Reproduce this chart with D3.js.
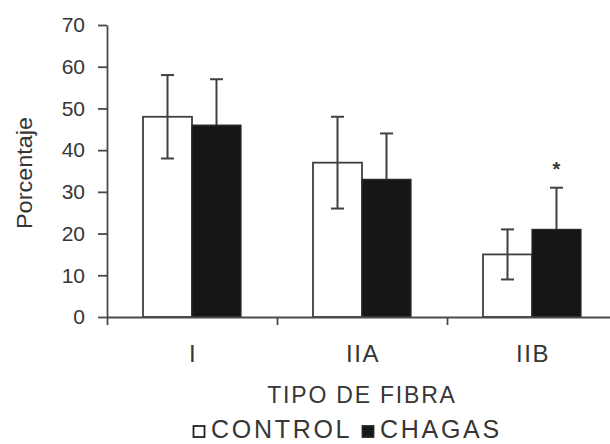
<!DOCTYPE html>
<html lang="en">
  <head>
    <meta charset="UTF-8" />
    <script src="https://d3js.org/d3.v7.min.js"></script>
    <title>Tipo de fibra</title>
    <style type="text/css">
      body {
        margin: 0;
        background: #fff;
      }
      text {
        font-family: 'Liberation Sans', Arial, sans-serif;
        fill: #363636;
      }
      .tick text {
        font-size: 21px;
      }
      .tick line,
      .domain {
        stroke: #4a4a4a;
        stroke-width: 1.8;
      }
    </style>
  </head>
  <body>
    <svg width="610" height="444"></svg>
  </body>
  <script type="text/javascript">
    const categories = ['I', 'IIA', 'IIB'];
    const series = ['CONTROL', 'CHAGAS'];
    const controlMean = [48, 37, 15];
    const controlErr = [10, 11, 6];
    const chagasMean = [46, 33, 21];
    const chagasErr = [11, 11, 10];
    const significance = ['', '', '*'];
    const yTicks = [0, 10, 20, 30, 40, 50, 60, 70];

    const rows = categories.map((c, i) => ({
      cat: c,
      values: [
        { s: 'CONTROL', mean: controlMean[i], err: controlErr[i] },
        { s: 'CHAGAS', mean: chagasMean[i], err: chagasErr[i] },
      ],
      sig: significance[i],
    }));

    const svg = d3.select('svg');
    const lineColor = '#404040';

    const x = d3.scaleBand().domain(categories).range([107, 617]);
    const xs = d3.scaleBand().domain(series).range([36, 134]);
    const y = d3.scaleLinear().domain([0, 70]).range([317, 25]);
    const fill = d3.scaleOrdinal().domain(series).range(['#ffffff', '#161616']);

    const g = svg.append('g');
    const groups = g
      .selectAll('g.cat')
      .data(rows)
      .enter()
      .append('g')
      .attr('class', 'cat')
      .attr('transform', (d) => `translate(${x(d.cat)},0)`);

    // control bars
    groups
      .selectAll('rect.control')
      .data((d) => d.values.filter((v) => v.s === 'CONTROL'))
      .enter()
      .append('rect')
      .attr('x', (d) => xs(d.s))
      .attr('y', (d) => y(d.mean))
      .attr('width', xs.bandwidth())
      .attr('height', (d) => y(0) - y(d.mean))
      .attr('fill', (d) => fill(d.s))
      .attr('stroke', lineColor)
      .attr('stroke-width', 1.8);

    // error bars
    const eb = groups
      .selectAll('g.err')
      .data((d) => d.values)
      .enter()
      .append('g')
      .attr('stroke', lineColor)
      .attr('stroke-width', 2);
    const cx = (d) => xs(d.s) + xs.bandwidth() / 2;
    eb.append('line')
      .attr('x1', cx)
      .attr('x2', cx)
      .attr('y1', (d) => y(d.mean + d.err))
      .attr('y2', (d) => y(d.mean - d.err));
    eb.append('line')
      .attr('x1', (d) => cx(d) - 6.5)
      .attr('x2', (d) => cx(d) + 6.5)
      .attr('y1', (d) => y(d.mean + d.err))
      .attr('y2', (d) => y(d.mean + d.err));
    eb.append('line')
      .attr('x1', (d) => cx(d) - 6.5)
      .attr('x2', (d) => cx(d) + 6.5)
      .attr('y1', (d) => y(d.mean - d.err))
      .attr('y2', (d) => y(d.mean - d.err));

    // chagas bars (drawn over their lower whisker)
    groups
      .selectAll('rect.chagas')
      .data((d) => d.values.filter((v) => v.s === 'CHAGAS'))
      .enter()
      .append('rect')
      .attr('x', (d) => xs(d.s))
      .attr('y', (d) => y(d.mean))
      .attr('width', xs.bandwidth())
      .attr('height', (d) => y(0) - y(d.mean))
      .attr('fill', (d) => fill(d.s))
      .attr('stroke', '#2a2a2a')
      .attr('stroke-width', 1.2);

    // significance mark
    groups
      .append('text')
      .attr('x', xs('CHAGAS') + xs.bandwidth() / 2)
      .attr('y', (d) => y(d.values[1].mean + d.values[1].err) - 12)
      .attr('text-anchor', 'middle')
      .style('font-size', '20px')
      .style('font-weight', 'bold')
      .text((d) => d.sig);

    // y axis
    svg.append('g')
      .attr('transform', 'translate(107,0)')
      .call(d3.axisLeft(y).tickValues(yTicks).tickSize(9).tickSizeOuter(0).tickPadding(13));

    // x axis: ticks at category boundaries
    const bounds = categories.map((c) => x(c));
    svg.append('g')
      .attr('transform', `translate(0,${y(0)})`)
      .call(
        d3.axisBottom(d3.scaleLinear().domain([107, 617]).range([107, 617]))
          .tickValues(bounds)
          .tickSize(8)
          .tickSizeOuter(0)
          .tickFormat('')
      );

    // category labels
    svg.append('g')
      .selectAll('text')
      .data(categories)
      .enter()
      .append('text')
      .attr('x', (d) => x(d) + x.bandwidth() / 2 + 1)
      .attr('y', 362)
      .attr('text-anchor', 'middle')
      .style('font-size', '24px')
      .style('letter-spacing', '1.5px')
      .text((d) => d);

    // axis titles
    svg.append('text')
      .attr('x', 362)
      .attr('y', 403)
      .attr('text-anchor', 'middle')
      .style('font-size', '23px')
      .style('letter-spacing', '1.8px')
      .text('TIPO DE FIBRA');

    svg.append('text')
      .attr('transform', 'translate(32,173) rotate(-90)')
      .attr('text-anchor', 'middle')
      .attr('textLength', 112)
      .attr('lengthAdjust', 'spacingAndGlyphs')
      .style('font-size', '22px')
      .text('Porcentaje');

    // legend
    const legendX = [193, 362];
    const lg = svg
      .append('g')
      .selectAll('g')
      .data(series)
      .enter()
      .append('g')
      .attr('transform', (d, i) => `translate(${legendX[i]},0)`);
    lg.append('rect')
      .attr('x', 0.5)
      .attr('y', 426)
      .attr('width', 11)
      .attr('height', 11)
      .attr('fill', (d) => fill(d))
      .attr('stroke', '#222')
      .attr('stroke-width', 1.8);
    lg.append('text')
      .attr('x', 18)
      .attr('y', 438)
      .style('font-size', '25px')
      .style('letter-spacing', '2.7px')
      .text((d) => d);
  </script>
</html>
